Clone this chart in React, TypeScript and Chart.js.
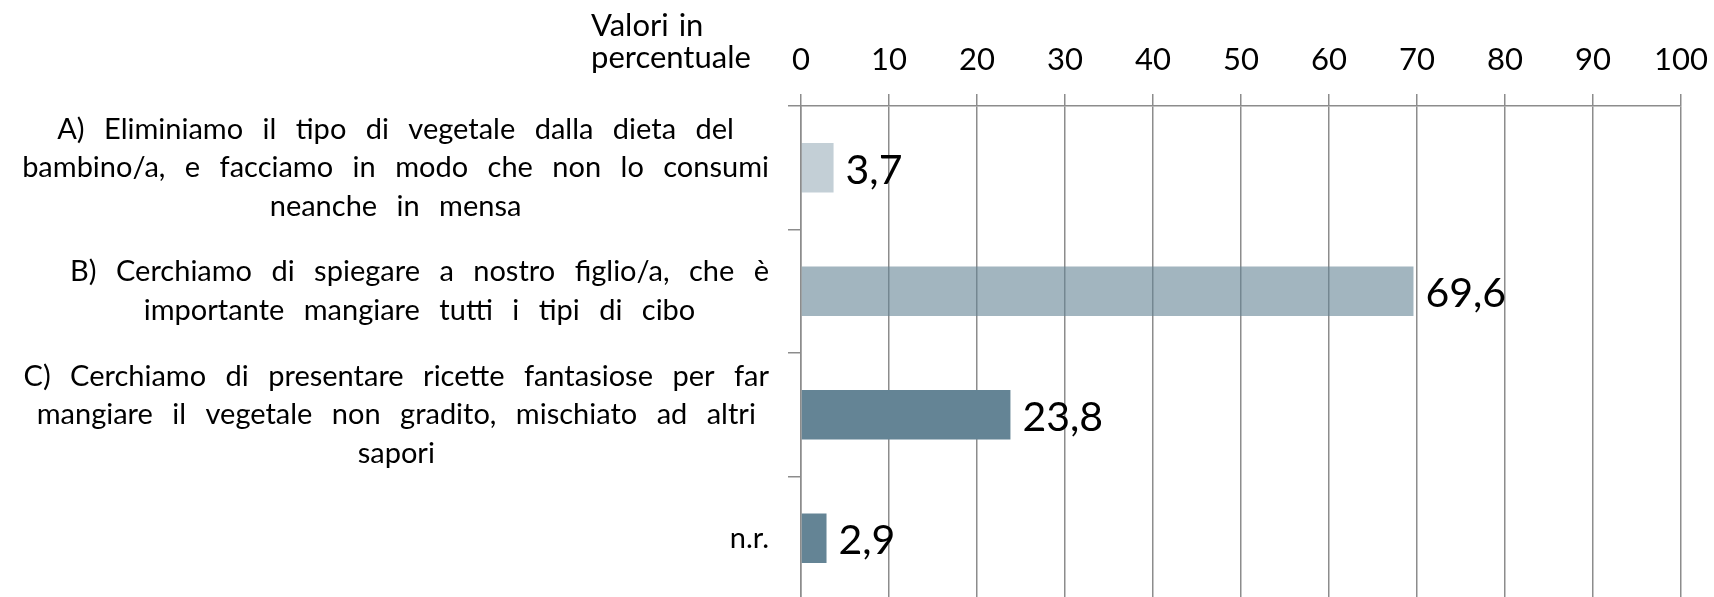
import React, { useEffect, useRef } from "react";
import { Chart, registerables } from "chart.js";

Chart.register(...registerables);

// ---- data ----
const categories: string[][] = [
  [
    "A) Eliminiamo il tipo di vegetale dalla dieta del",
    "bambino/a, e facciamo in modo che non lo consumi",
    "neanche in mensa",
  ],
  [
    "B) Cerchiamo di spiegare a nostro figlio/a, che è",
    "importante mangiare tutti i tipi di cibo",
  ],
  [
    "C) Cerchiamo di presentare ricette fantasiose per far",
    "mangiare il vegetale non gradito, mischiato ad altri",
    "sapori",
  ],
  ["n.r."],
];
const values: number[] = [3.7, 69.6, 23.8, 2.9];
const barAlphas: number[] = [0.39, 0.6, 1, 1];
const axisTitleLines: string[] = ["Valori in", "percentuale"];
const xMin = 0;
const xMax = 100;
const xStep = 10;

const BASE_RGB = "100,132,149";
const GRID = "#8c8c8c";

const fmt = (v: number) => v.toFixed(1).replace(".", ",");

const categoryLabelPlugin = {
  id: "categoryLabels",
  afterDraw(chart: any) {
    const y = chart.scales.y;
    const ctx = chart.ctx as CanvasRenderingContext2D;
    ctx.save();
    ctx.font = "29px Lato";
    (ctx as any).wordSpacing = "12px";
    ctx.fillStyle = "#000";
    ctx.textAlign = "center";
    ctx.textBaseline = "middle";
    const right = chart.chartArea.left - 32;
    const lh = 38.5;
    (chart.data.labels as string[][]).forEach((lines, i) => {
      const cy = y.getPixelForTick(i);
      const w = Math.max(...lines.map((l) => ctx.measureText(l).width));
      const cx = right - w / 2;
      lines.forEach((l, j) =>
        ctx.fillText(l, cx, cy + (j - (lines.length - 1) / 2) * lh)
      );
    });
    ctx.restore();
  },
};

const axisTitlePlugin = {
  id: "axisTitle",
  afterDraw(chart: any) {
    const ctx = chart.ctx as CanvasRenderingContext2D;
    ctx.save();
    ctx.font = "31px Lato";
    (ctx as any).wordSpacing = "2px";
    ctx.fillStyle = "#000";
    ctx.textAlign = "left";
    ctx.textBaseline = "alphabetic";
    const x = chart.chartArea.left - 210;
    axisTitleLines.forEach((l, j) => ctx.fillText(l, x, 36 + j * 32));
    ctx.restore();
  },
};

const valueLabelPlugin = {
  id: "valueLabels",
  afterDraw(chart: any) {
    const ctx = chart.ctx as CanvasRenderingContext2D;
    const meta = chart.getDatasetMeta(0);
    const data = chart.data.datasets[0].data as number[];
    ctx.save();
    ctx.font = "41px Lato";
    ctx.fillStyle = "#000";
    ctx.textAlign = "left";
    ctx.textBaseline = "middle";
    meta.data.forEach((bar: any, i: number) => {
      ctx.fillText(fmt(data[i]), bar.x + 12, bar.y + 3);
    });
    ctx.restore();
  },
};

export default function App() {
  const ref = useRef<HTMLCanvasElement | null>(null);
  useEffect(() => {
    if (!ref.current) return;
    const chart = new Chart(ref.current, {
      type: "bar",
      data: {
        labels: categories as any,
        datasets: [
          {
            data: values,
            backgroundColor: barAlphas.map((a) => `rgba(${BASE_RGB},${a})`),
            borderWidth: 0,
            barPercentage: 0.4,
            categoryPercentage: 1,
          },
        ],
      },
      options: {
        indexAxis: "y",
        responsive: false,
        animation: false,
        devicePixelRatio: 1,
        layout: { padding: { left: 0, right: 33, top: 0, bottom: 0 } },
        plugins: {
          legend: { display: false },
          tooltip: { enabled: false },
        },
        scales: {
          x: {
            position: "top",
            min: xMin,
            max: xMax,
            ticks: {
              stepSize: xStep,
              color: "#000",
              font: { family: "Lato", size: 31 },
              padding: 15,
            },
            grid: { color: GRID, lineWidth: 1.5, tickLength: 12, drawTicks: true },
            border: { color: GRID, width: 1.5 },
            afterFit: (s: any) => {
              s.height = 106;
              s.paddingLeft = 0;
              s.paddingRight = 0;
            },
          },
          y: {
            ticks: { display: false },
            grid: {
              drawOnChartArea: false,
              drawTicks: true,
              tickLength: 13,
              color: GRID,
              lineWidth: 1.5,
              offset: true,
            },
            border: { color: GRID, width: 1.5 },
            afterFit: (s: any) => {
              s.width = 801;
            },
          },
        },
      },
      plugins: [categoryLabelPlugin, axisTitlePlugin, valueLabelPlugin],
    });
    return () => chart.destroy();
  }, []);

  return (
    <div
      style={{
        position: "absolute",
        left: 0,
        top: 0,
        width: 1714,
        height: 597,
        overflow: "hidden",
        background: "#fff",
      }}
    >
      <canvas ref={ref} width={1714} height={600} style={{ width: 1714, height: 600, display: "block" }} />
    </div>
  );
}
